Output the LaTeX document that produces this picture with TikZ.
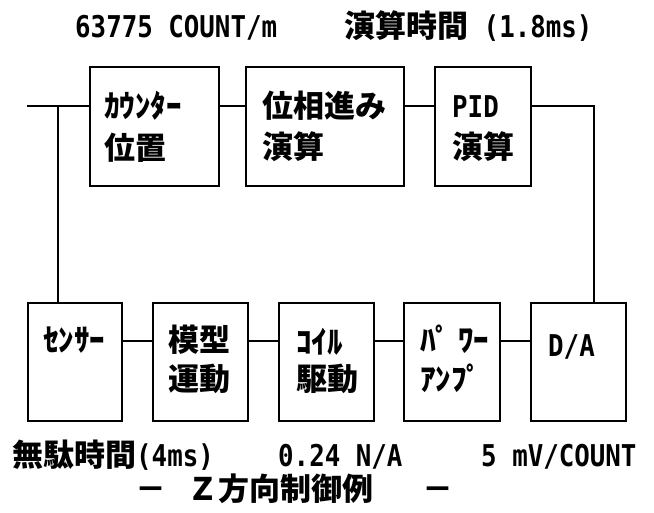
\documentclass[tikz,border=0pt]{standalone}
\usepackage{fontspec}
\newfontfamily\cjkf{Noto Sans CJK JP}
\newfontfamily\ascf[FakeStretch=0.86]{DejaVu Sans Mono}
\newcommand\J[1]{{\cjkf\bfseries\fontsize{31pt}{31pt}\selectfont #1}}
\newcommand\A[1]{{\ascf\bfseries\fontsize{30pt}{30pt}\selectfont #1}}
\tikzset{
  blk/.style={draw, line width=1.9pt, inner sep=0pt, anchor=north west},
  lbl/.style={inner sep=0pt, anchor=base west},
  wire/.style={line width=1.5pt},
}
\begin{document}
\begin{tikzpicture}[x=1pt,y=-1pt]
\useasboundingbox (0,0) rectangle (654,513);
% titles
\node[lbl] (ti1) at (75,38) {\A{63775 COUNT/m}};
\node[lbl] (ti2) at (344,38) {\J{演算時間}\A{\ (1.8ms)}};
% top row
\node[blk, minimum width=129pt, minimum height=119pt] (b1) at (89,66) {};
\node[blk, minimum width=158pt, minimum height=119pt] (b2) at (245,66) {};
\node[blk, minimum width=96pt,  minimum height=119pt] (b3) at (434,66) {};
\node[lbl] (t1a) at (104,118) {\J{ｶｳﾝﾀｰ}};
\node[lbl] (t1b) at (104,160) {\J{位置}};
\node[lbl] (t2a) at (262,118) {\J{位相進み}};
\node[lbl] (t2b) at (262,159) {\J{演算}};
\node[lbl] (t3a) at (452,118) {\A{PID}};
\node[lbl] (t3b) at (452,159) {\J{演算}};
% bottom row
\node[blk, minimum width=94pt, minimum height=118pt] (s1) at (27,302) {};
\node[blk, minimum width=95pt, minimum height=118pt] (s2) at (152,302) {};
\node[blk, minimum width=95pt, minimum height=118pt] (s3) at (278,302) {};
\node[blk, minimum width=96pt, minimum height=118pt] (s4) at (403,302) {};
\node[blk, minimum width=95pt, minimum height=118pt] (s5) at (530,302) {};
\node[lbl] (u1a) at (43,352) {\J{ｾﾝｻｰ}};
\node[lbl] (u2a) at (168,352) {\J{模型}};
\node[lbl] (u2b) at (168,390) {\J{運動}};
\node[lbl] (u3a) at (296,354) {\J{ｺｲﾙ}};
\node[lbl] (u3b) at (296,391) {\J{駆動}};
\node[lbl] (u4a) at (420,352) {\J{ﾊﾟ ﾜｰ}};
\node[lbl] (u4b) at (420,391) {\J{ｱﾝﾌﾟ}};
\node[lbl] (u5a) at (548,357) {\A{D/A}};
% bottom texts
\node[lbl] (n1) at (12,466) {\J{無駄時間}\A{(4ms)}};
\node[lbl] (n2) at (278,466) {\A{0.24 N/A}};
\node[lbl] (n3) at (481,466) {\A{5 mV/COUNT}};
\node[lbl] (cap) at (135,500) {\J{－\hspace{21pt}Ｚ方向制御例\hspace{49pt}－}};
% connectors
\coordinate (h1) at (0,106);
\coordinate (h2) at (0,341);
\coordinate (in) at (27,106);
\coordinate (jL) at (58,106);
\coordinate (jR) at (594,106);
\draw[wire] (in) -- (b1.west |- h1);
\draw[wire] (b1.east |- h1) -- (b2.west |- h1);
\draw[wire] (b2.east |- h1) -- (b3.west |- h1);
\draw[wire] (b3.east |- h1) -- (jR) -- (jR |- s5.north);
\draw[wire] (jL) -- (jL |- s1.north);
\draw[wire] (s1.east |- h2) -- (s2.west |- h2);
\draw[wire] (s2.east |- h2) -- (s3.west |- h2);
\draw[wire] (s3.east |- h2) -- (s4.west |- h2);
\draw[wire] (s4.east |- h2) -- (s5.west |- h2);
\end{tikzpicture}
\end{document}
